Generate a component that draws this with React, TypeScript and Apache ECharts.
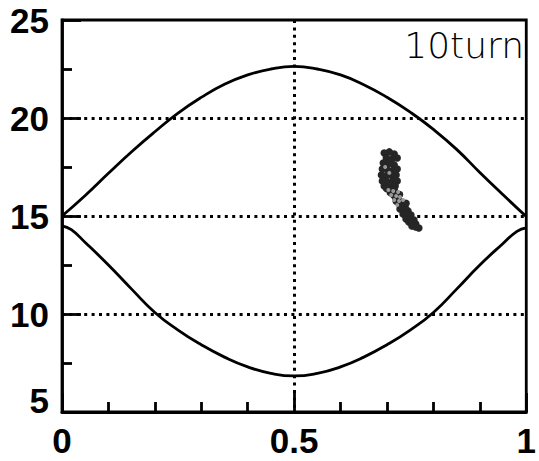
import React, { useEffect, useRef } from "react";
import * as echarts from "echarts";

const xTicks = [0, 0.5, 1];
const yTicks = [5, 10, 15, 20, 25];

const upperCurve: [number, number][] = [
  [0, 15.0], [0.05, 16.05], [0.1, 17.18], [0.15, 18.28], [0.2, 19.3], [0.25, 20.25],
  [0.3, 21.05], [0.35, 21.72], [0.4, 22.2], [0.45, 22.5], [0.5, 22.63], [0.55, 22.5],
  [0.6, 22.2], [0.65, 21.7], [0.7, 21.06], [0.75, 20.3], [0.8, 19.42], [0.85, 18.4],
  [0.9, 17.22], [0.95, 16.08], [1, 14.97],
];

const lowerCurve: [number, number][] = [
  [0, 14.5], [0.02, 14.3], [0.05, 13.65], [0.1, 12.5], [0.15, 11.27], [0.2, 10.08],
  [0.25, 9.18], [0.3, 8.43], [0.35, 7.8], [0.4, 7.3], [0.45, 6.97], [0.5, 6.84],
  [0.55, 6.97], [0.6, 7.3], [0.65, 7.8], [0.7, 8.43], [0.75, 9.18], [0.8, 10.08],
  [0.85, 11.27], [0.9, 12.5], [0.95, 13.6], [0.98, 14.22], [1, 14.4],
];

const darkPoints: [number, number][] = [
  [0.694, 18.21], [0.705, 18.27], [0.7155, 18.16], [0.722, 17.96], [0.711, 17.91], [0.6985, 17.96],
  [0.692, 17.7], [0.703, 17.65], [0.7155, 17.6], [0.69, 17.4], [0.7006, 17.35], [0.7134, 17.35],
  [0.722, 17.4], [0.688, 17.09], [0.6985, 17.04], [0.711, 17.04], [0.7197, 17.09], [0.69, 16.79],
  [0.7006, 16.73], [0.7134, 16.79], [0.722, 16.79], [0.694, 16.53], [0.707, 16.48], [0.7176, 16.53],
  [0.728, 15.36], [0.7367, 15.31], [0.7452, 15.26], [0.7346, 15.1], [0.743, 15.05], [0.7516, 15.05],
  [0.741, 14.85], [0.7495, 14.85], [0.758, 14.8], [0.747, 14.69], [0.756, 14.64], [0.762, 14.59],
  [0.7537, 14.49], [0.762, 14.44], [0.7686, 14.39], [0.7325, 15.56], [0.739, 15.46],
  [0.707, 16.2], [0.718, 15.95], [0.73, 15.7], [0.724, 15.9], [0.737, 15.6], [0.699, 16.4],
  [0.713, 16.1], [0.72, 15.75], [0.731, 15.45], [0.716, 16.3], [0.727, 16.1], [0.741, 15.65],
];

const lightPoints: [number, number][] = [
  [0.703, 16.33], [0.7134, 16.28], [0.724, 16.22], [0.709, 16.07], [0.7197, 16.02], [0.728, 15.97],
  [0.7155, 15.82], [0.726, 15.77], [0.7346, 15.82], [0.722, 15.56], [0.705, 17.2], [0.696, 17.5],
];

export default function App() {
  const ref = useRef<HTMLDivElement>(null);
  useEffect(() => {
    document.body.style.margin = "0";
    const chart = echarts.init(ref.current!, undefined, { renderer: "svg" });
    const axisStyle = { color: "#000", width: 2.8 };
    const dotted = { color: "#000", width: 3, type: [3, 4.4] as number[] };
    const labelFont = '"Liberation Sans", Arial, sans-serif';
    chart.setOption({
      animation: false,
      backgroundColor: "#fff",
      grid: {
        left: 62, right: 6, top: 20, bottom: 49,
        show: true, borderColor: "#000", borderWidth: 2.8, backgroundColor: "transparent",
      },
      graphic: [
        {
          type: "text", right: 15, top: 27,
          style: { text: "10turn", font: '200 36px "DejaVu Sans"', fill: "#000" },
        },
      ],
      xAxis: {
        type: "value", min: xTicks[0], max: xTicks[xTicks.length - 1], interval: 0.5,
        axisLine: { show: true, lineStyle: axisStyle },
        axisTick: { show: true, inside: true, length: 19, lineStyle: axisStyle },
        minorTick: { show: true, splitNumber: 5, length: 10, lineStyle: axisStyle },
        splitLine: { show: true, showMinLine: false, showMaxLine: false, lineStyle: dotted },
        axisLabel: {
          color: "#000", fontSize: 35, fontWeight: "bold",
          fontFamily: labelFont, margin: 11,
          formatter: (v: number) => String(v),
        },
      },
      yAxis: {
        type: "value", min: yTicks[0], max: yTicks[yTicks.length - 1], interval: 5,
        axisLine: { show: true, lineStyle: axisStyle },
        axisTick: { show: true, inside: true, length: 19, lineStyle: axisStyle },
        minorTick: { show: true, splitNumber: 2, length: 10, lineStyle: axisStyle },
        splitLine: { show: true, showMinLine: false, showMaxLine: false, lineStyle: dotted },
        axisLabel: {
          color: "#000", fontSize: 35, fontWeight: "bold",
          fontFamily: labelFont, margin: 13,
          formatter: (v: number) => (v === 5 ? "{low|5}" : String(v)),
          rich: {
            low: {
              fontSize: 35, fontWeight: "bold", color: "#000",
              fontFamily: labelFont,
              padding: [0, 0, 24, 0],
            },
          },
        },
      },
      series: [
        {
          type: "line", data: upperCurve, smooth: 0.5, showSymbol: false,
          lineStyle: { color: "#000", width: 2.8 }, z: 3,
        },
        {
          type: "line", data: lowerCurve, smooth: 0.5, showSymbol: false,
          lineStyle: { color: "#000", width: 2.8 }, z: 3,
        },
        {
          type: "scatter", data: darkPoints, symbolSize: 7.5,
          itemStyle: { color: "#262626", opacity: 1 }, z: 4,
        },
        {
          type: "scatter", data: lightPoints, symbolSize: 4,
          itemStyle: { color: "#9a9a9a", opacity: 1 }, z: 5,
        },
      ],
    });
    return () => chart.dispose();
  }, []);
  return <div ref={ref} style={{ width: 539, height: 461 }} />;
}
